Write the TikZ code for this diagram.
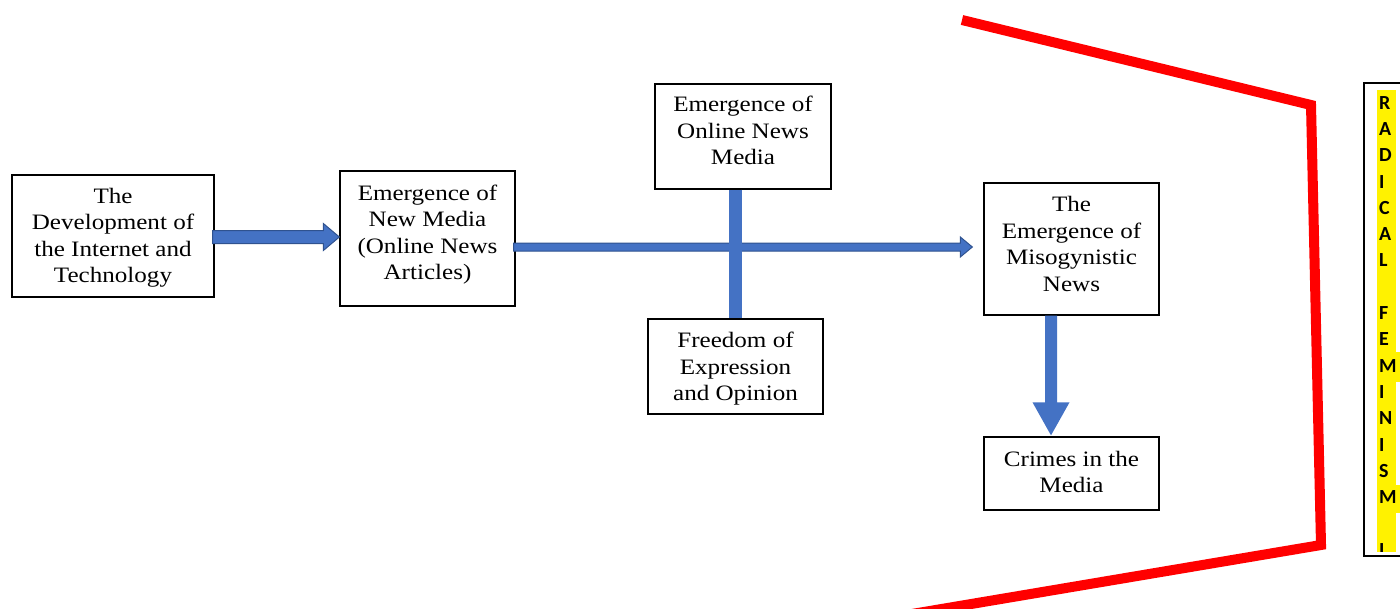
\documentclass[tikz,border=0pt]{standalone}
\usepackage{fontspec}
\setmainfont{Liberation Serif}[FakeStretch=1.14]
\newfontfamily\calfont{Carlito}
\usetikzlibrary{calc}
\definecolor{blu}{HTML}{4472C4}
\definecolor{bord}{HTML}{2F528F}
\newcommand\hblockarrow[6][barrow]{%
  \draw[#1] let \p1=(#2), \p2=(#3) in
    (\x1,{\y1+#4}) -- ({\x2-#6},{\y1+#4}) -- ({\x2-#6},{\y1+#5}) -- (\x2,\y1)
    -- ({\x2-#6},{\y1-#5}) -- ({\x2-#6},{\y1-#4}) -- (\x1,{\y1-#4}) -- cycle;}
\newcommand\vblockarrow[6][barrow]{%
  \draw[#1] let \p1=(#2), \p2=(#3) in
    ({\x1+#4},\y1) -- ({\x1+#4},{\y2+#6}) -- ({\x1+#5},{\y2+#6}) -- (\x1,\y2)
    -- ({\x1-#5},{\y2+#6}) -- ({\x1-#4},{\y2+#6}) -- ({\x1-#4},\y1) -- cycle;}
\begin{document}
\begin{tikzpicture}[x=1pt,y=-1pt,
  box/.style={draw=black, line width=1.3pt, inner sep=0pt, fill=white},
  txt/.style={align=center, inner sep=0pt, font=\fontsize{22}{26.5}\selectfont},
  barrow/.style={fill=blu, draw=bord, line width=1pt, line join=miter},
  plainarrow/.style={fill=blu, draw=none},
]
\useasboundingbox (0,0) rectangle (1400,608);
\clip (0,0) rectangle (1400,608);

% boxes
\node[box, minimum width=202pt, minimum height=122pt] (a) at (113,236) {};
\node[box, minimum width=175pt, minimum height=135pt] (b) at (427.5,238.5) {};
\node[box, minimum width=176pt, minimum height=105pt] (c) at (743,136.5) {};
\node[box, minimum width=175pt, minimum height=95pt]  (d) at (735.5,366.5) {};
\node[box, minimum width=175pt, minimum height=132pt] (e) at (1071.5,249) {};
\node[box, minimum width=175pt, minimum height=73pt]  (f) at (1071.5,473.5) {};

% texts
\node[txt] (at) at (113,237.5) {The\\Development of\\the Internet and\\Technology};
\node[txt] (bt) at (427.5,234.5) {Emergence of\\New Media\\(Online News\\Articles)};
\node[txt] (ct) at (743,130.5) {Emergence of\\Online News\\Media};
\node[txt] (dt) at (735.5,369) {Freedom of\\Expression\\and Opinion};
\node[txt] (et) at (1071.5,244) {The\\Emergence of\\Misogynistic\\News};
\node[txt] (ft) at (1071.5,472) {Crimes in the\\Media};

% connectors
\coordinate (a1s) at ($(a.east)+(-2,1)$);
\coordinate (a1e) at ($(b.west)+(0,-1.5)$);
\hblockarrow{a1s}{a1e}{6.5pt}{13.5pt}{16pt}

\coordinate (a2s) at ($(b.east)+(-2,8.5)$);
\coordinate (a2e) at ($(e.west)+(-11,-2)$);
\hblockarrow{a2s}{a2e}{4pt}{10pt}{12pt}

\draw[blu, line width=13pt] (c.south -| d.north) -- (d.north);

\coordinate (a3s) at ($(e.south)+(-20.5,0)$);
\coordinate (a3e) at ($(f.north)+(-20.5,-1)$);
\vblockarrow[plainarrow]{a3s}{a3e}{6pt}{18.5pt}{33pt}

% red bracket
\draw[red, line width=10pt, line join=miter] (962,20) -- (1311,105) -- (1321,545) -- (900,616);

% right box
\node[draw=black, line width=1.5pt, minimum width=60pt, minimum height=473pt, inner sep=0pt] (rb) at (1394,319.5) {};
\fill[yellow] (1377,90) rectangle (1396,552);
\fill[yellow] (1395,352) rectangle (1401,382);
\fill[yellow] (1395,485) rectangle (1401,513);
\begin{scope}
\clip (1365,85) rectangle (1400,551);
\node[anchor=north west, inner sep=0pt, align=left,
      font=\calfont\bfseries\fontsize{20}{26.3}\selectfont] (rt) at (1379,96)
  {R\\A\\D\\I\\C\\A\\L\\\mbox{}\\F\\E\\M\\I\\N\\I\\S\\M\\\mbox{}\\I};
\end{scope}
\end{tikzpicture}
\end{document}
